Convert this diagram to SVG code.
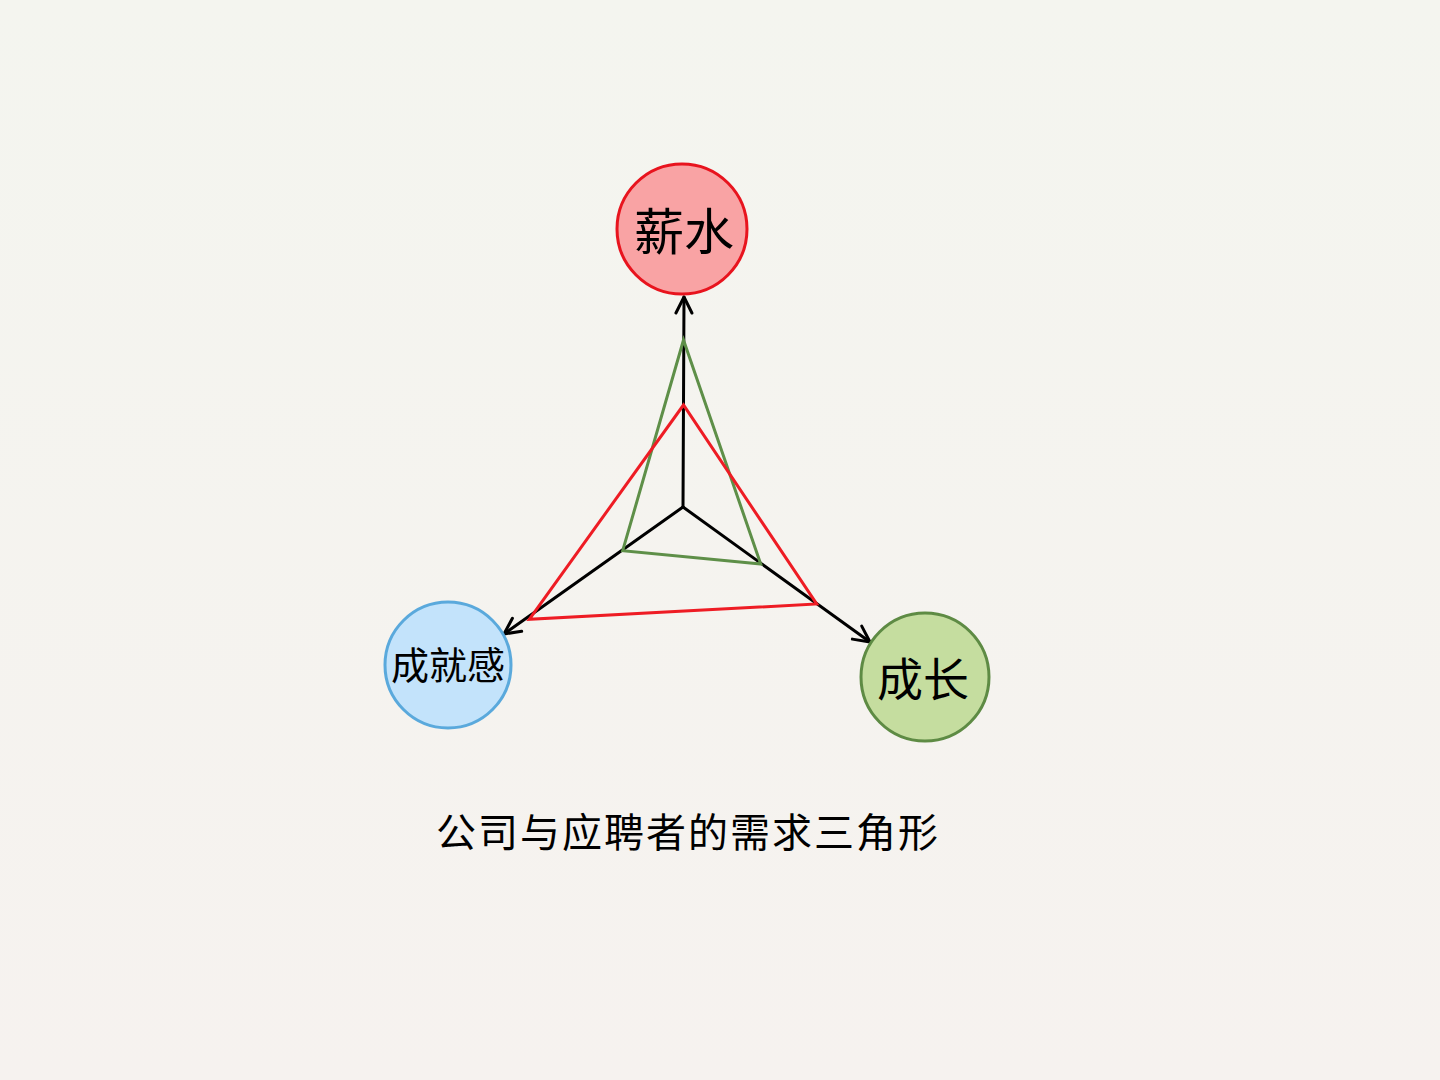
<svg xmlns="http://www.w3.org/2000/svg" width="1440" height="1080" viewBox="0 0 1440 1080">
<defs>
<linearGradient id="bg" x1="0" y1="0" x2="0" y2="1">
<stop offset="0" stop-color="#f4f5ef"/>
<stop offset="1" stop-color="#f6f2ef"/>
</linearGradient>
<marker id="arr" viewBox="0 0 20 20" refX="18" refY="10" markerWidth="20" markerHeight="20" markerUnits="userSpaceOnUse" orient="auto">
<path d="M2,2 L18,10 L2,18" fill="none" stroke="#000" stroke-width="3" stroke-linecap="round" stroke-linejoin="round"/>
</marker>
</defs>
<style>
.lbl{font-family:"Noto Sans CJK SC","Noto Sans",sans-serif;fill:#000;text-anchor:middle;dominant-baseline:central}
.axis{stroke:#000;stroke-width:3;fill:none;stroke-linecap:round}
.tri{fill:none;stroke-width:3;stroke-linejoin:miter}
</style>
<rect width="1440" height="1080" fill="url(#bg)"/>
<g id="connectors">
<line class="axis" x1="683" y1="507" x2="684" y2="297" marker-end="url(#arr)"/>
<line class="axis" x1="683" y1="507" x2="504" y2="634" marker-end="url(#arr)"/>
<line class="axis" x1="683" y1="507" x2="870" y2="642" marker-end="url(#arr)"/>
<polygon id="green-triangle" class="tri" stroke="#5e8f48" points="683.5,340 622.7,550.7 760.7,564"/>
<polygon id="red-triangle" class="tri" stroke="#ee1c24" points="683.5,405 529.3,619.3 816.7,604"/>
</g>
<g id="node-salary">
<circle cx="682" cy="229" r="65" fill="#f9a3a4" stroke="#e8141e" stroke-width="3"/>
<text class="lbl" x="684" y="228" font-size="50">薪水</text>
</g>
<g id="node-achievement">
<circle cx="448" cy="665" r="63" fill="#c3e3fb" stroke="#5aa9dc" stroke-width="3"/>
<text class="lbl" x="448" y="662" font-size="38">成就感</text>
</g>
<g id="node-growth">
<circle cx="925" cy="677" r="64" fill="#c5dd9f" stroke="#5e8b44" stroke-width="3"/>
<text class="lbl" x="923" y="676" font-size="46">成长</text>
</g>
<text class="lbl" x="688" y="830" font-size="40" letter-spacing="2">公司与应聘者的需求三角形</text>
</svg>
